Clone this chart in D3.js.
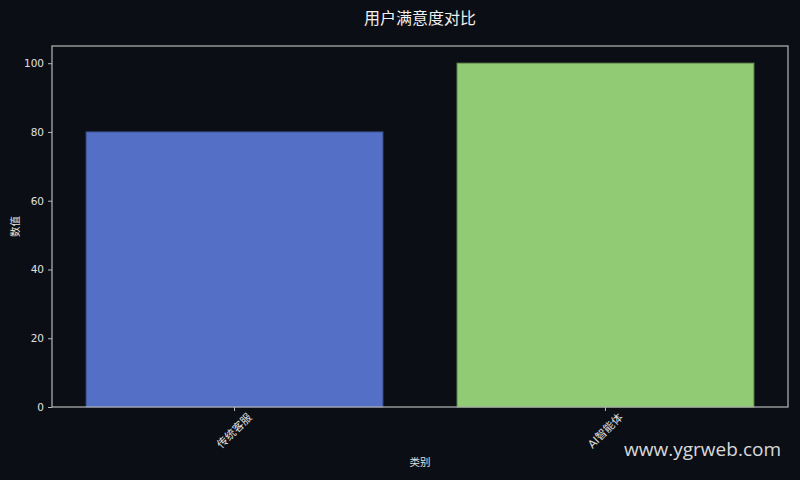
<!DOCTYPE html>
<html>
<head>
<meta charset="utf-8">
<script src="https://cdn.jsdelivr.net/npm/d3@7"></script>
<style>
  html, body { margin: 0; padding: 0; background: #0b0e14; }
  text { font-family: "DejaVu Sans", "Noto Sans CJK SC", sans-serif; }
</style>
</head>
<body>
<div id="chart-area"></div>
<script>
// Chart data
let categories = ["传统客服", "AI智能体"];
let values = [80, 100];
let barColors = ["#5470c6", "#91cc75"];
let yTicks = [0, 20, 40, 60, 80, 100];

let titleText = "用户满意度对比";
let xLabelText = "类别";
let yLabelText = "数值";

// Outer size and plot margins
let totalWidth = 800, totalHeight = 480;
let margin = {top: 46, right: 12, bottom: 73, left: 52};
let width = totalWidth - margin.left - margin.right,
	height = totalHeight - margin.top - margin.bottom;

let svg = d3.select("#chart-area")
	.append("svg")
	.attr("width", totalWidth)
	.attr("height", totalHeight)
	.style("background", "#0b0e14");

let g = svg.append("g")
	.attr("transform", "translate(" + margin.left + "," + margin.top + ")");

// Scales
let xScale = d3.scaleBand()
	.domain(categories)
	.range([0, width])
	.paddingInner(0.2)
	.paddingOuter(0.092);

let yScale = d3.scaleLinear()
	.domain([0, 105])
	.range([height, 0]);

// Bars
g.selectAll("rect.bar")
	.data(categories)
	.enter()
	.append("rect")
	.attr("class", "bar")
	.attr("x", d => xScale(d))
	.attr("width", xScale.bandwidth())
	.attr("y", (d, i) => yScale(values[i]))
	.attr("height", (d, i) => height - yScale(values[i]))
	.attr("fill", (d, i) => barColors[i])
	.attr("stroke", (d, i) => d3.color(barColors[i]).darker(0.8))
	.attr("stroke-width", 1);

// Frame (all four spines)
g.append("rect")
	.attr("x", 0)
	.attr("y", 0)
	.attr("width", width)
	.attr("height", height)
	.attr("fill", "none")
	.attr("stroke", "#b8b8b8")
	.attr("stroke-width", 1.2);

// Y axis
let yAxis = d3.axisLeft(yScale)
	.tickValues(yTicks)
	.tickSize(4)
	.tickPadding(4);

let yAxisGroup = g.append("g")
	.attr("class", "axis y-axis")
	.call(yAxis);

// X axis
let xAxis = d3.axisBottom(xScale)
	.tickSize(4)
	.tickPadding(4);

let xAxisGroup = g.append("g")
	.attr("class", "axis x-axis")
	.attr("transform", "translate(0," + height + ")")
	.call(xAxis);

svg.selectAll(".axis .domain").remove();
svg.selectAll(".axis line").attr("stroke", "#b8b8b8");
svg.selectAll(".axis text")
	.attr("fill", "#e0e0e0")
	.style("font-size", "10.5px");

// Rotated category labels, centred under their ticks
xAxisGroup.selectAll(".tick text")
	.attr("y", 0)
	.attr("dy", 0)
	.attr("text-anchor", "middle")
	.attr("dominant-baseline", "central")
	.style("font-size", "11px")
	.attr("transform", "translate(0,24) rotate(-45)");

// Title and axis labels
svg.append("text")
	.attr("x", margin.left + width / 2)
	.attr("y", 18)
	.attr("text-anchor", "middle")
	.attr("dominant-baseline", "central")
	.attr("fill", "#f0f0f0")
	.style("font-size", "16px")
	.text(titleText);

svg.append("text")
	.attr("x", margin.left + width / 2)
	.attr("y", 462)
	.attr("text-anchor", "middle")
	.attr("dominant-baseline", "central")
	.attr("fill", "#e0e0e0")
	.style("font-size", "10.5px")
	.text(xLabelText);

svg.append("text")
	.attr("transform", "translate(15," + (margin.top + height / 2) + ") rotate(-90)")
	.attr("text-anchor", "middle")
	.attr("dominant-baseline", "central")
	.attr("fill", "#e0e0e0")
	.style("font-size", "10.5px")
	.text(yLabelText);

// Watermark
svg.append("text")
	.attr("x", 781)
	.attr("y", 449)
	.attr("text-anchor", "end")
	.attr("dominant-baseline", "central")
	.attr("fill", "#ffffff")
	.attr("fill-opacity", 0.85)
	.style("font-family", "'Open Sans', 'Noto Sans', sans-serif")
	.style("font-size", "19px")
	.text("www.ygrweb.com");
</script>
</body>
</html>
